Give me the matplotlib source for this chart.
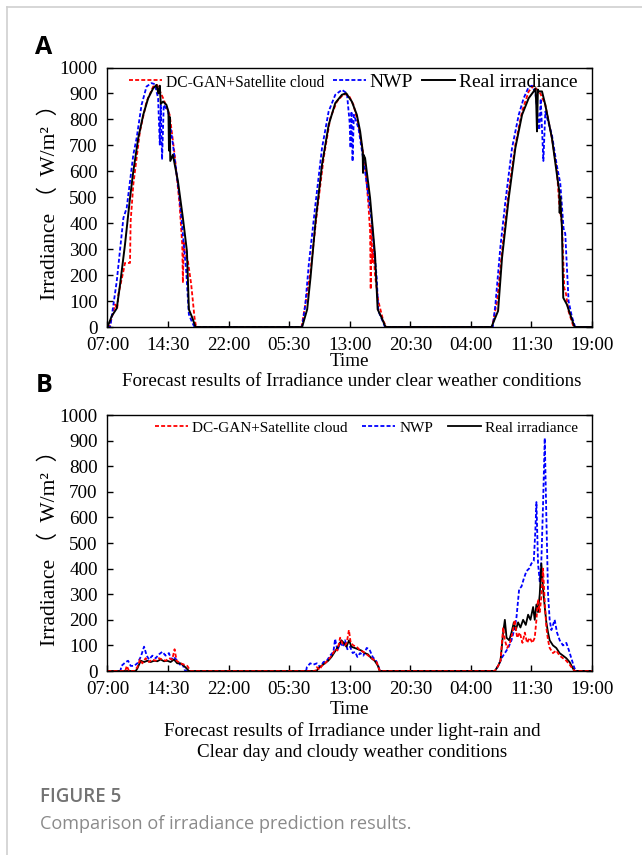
import matplotlib
matplotlib.use('Agg')
import matplotlib.pyplot as plt
from matplotlib.lines import Line2D

plt.rcParams['font.family'] = ['Liberation Serif', 'Noto Sans CJK SC']

# time axis in hours counted from 07:00 of the first day
tick_pos = [0, 7.5, 15, 22.5, 30, 37.5, 45, 52.5, 60]
tick_labels = ['07:00', '14:30', '22:00', '05:30', '13:00', '20:30', '04:00', '11:30', '19:00']
series_names = ['DC-GAN+Satellite cloud', 'NWP', 'Real irradiance']

# ---- A: clear weather ----
a_gan_t = [0, 0.25, 0.94, 1.2, 1.35, 1.97, 2.17, 2.79, 2.87, 3.2, 4.02, 4.84, 5.66, 6.15, 6.89, 7.7,
           8.32, 8.93, 9.26, 9.34, 9.45, 9.55, 9.96, 10.37, 10.78, 10.98,
           24.03, 24.5, 25.14, 25.96, 26.77, 27.59, 28.41, 29.23, 29.85, 30.47, 31.08, 31.9, 32.31,
           32.52, 32.6, 32.68, 32.8, 32.93, 33.13, 33.54, 34.16, 34.57,
           47.63, 48.25, 48.86, 49.69, 50.51, 51.34, 52.16, 52.78, 53.6, 54.22, 55.04, 55.66, 55.95,
           56.28, 56.57, 56.77, 57.1, 57.72, 60]
a_gan_v = [0, 0, 87, 70, 126, 215, 247, 247, 408, 549, 754, 869, 927, 933, 882, 818,
           664, 472, 318, 170, 330, 292, 254, 164, 36, 0,
           0, 87, 215, 446, 651, 805, 869, 897, 895, 856, 779, 626, 472,
           369, 145, 390, 250, 300, 200, 100, 23, 0,
           0, 100, 292, 523, 703, 831, 908, 930, 900, 856, 728, 600, 470,
           400, 150, 130, 60, 0, 0]

a_nwp_t = [0, 0.33, 0.74, 1.15, 1.97, 2.38, 3.2, 3.61, 4.22, 4.84, 5.45, 5.86, 6.27, 6.48, 6.6, 6.76,
           6.97, 7.5, 8.11, 8.93, 9.75, 10.08, 10.5, 10.78,
           24.1, 24.5, 24.93, 25.75, 26.57, 27.39, 28.21, 29.03, 29.65, 29.98, 30.1, 30.22, 30.35,
           30.51, 31.08, 31.9, 32.72, 33.34, 33.54, 34.16, 34.36,
           47.72, 48.04, 48.66, 49.28, 50.1, 50.93, 51.54, 52.16, 52.57, 52.98, 53.48, 53.65, 53.98,
           54.22, 55.04, 55.66, 56.07, 56.48, 56.69, 57.1, 57.51, 57.92, 60]
a_nwp_v = [0, 0, 87, 177, 420, 459, 664, 728, 856, 927, 940, 936, 882, 703, 856, 645,
           856, 831, 703, 497, 215, 49, 17, 0,
           0, 87, 241, 472, 690, 831, 895, 914, 901, 792, 690, 831, 638,
           818, 767, 600, 408, 190, 62, 17, 0,
           0, 87, 310, 485, 690, 818, 882, 925, 930, 905, 760, 880, 640,
           830, 740, 620, 555, 380, 360, 100, 40, 0, 0]

a_real_t = [0, 0.53, 1.15, 1.56, 2.17, 2.79, 3.2, 3.81, 4.43, 5.04, 5.66, 6.07, 6.3, 6.48, 6.6, 6.89,
            7.3, 7.55, 7.62, 7.7, 7.78, 8.1, 8.73, 9.34, 9.84, 10.08, 10.5, 10.9,
            24.1, 24.73, 25.14, 25.77, 26.57, 27.39, 28.21, 29.03, 29.56, 30.26, 30.88, 31.29, 31.6,
            31.65, 31.7, 31.9, 32.52, 33.13, 33.46, 33.95, 34.44,
            47.55, 48.37, 48.86, 49.69, 50.51, 51.34, 52.16, 52.78, 53.0, 53.1, 53.19, 53.3, 53.4,
            53.81, 54.22, 55.04, 55.66, 55.95, 56.0, 56.07, 56.28, 56.44, 56.89, 57.3, 57.84, 60]
a_real_v = [0, 42, 72, 164, 318, 497, 600, 728, 818, 882, 920, 933, 900, 930, 860, 869,
            856, 830, 680, 810, 640, 664, 561, 420, 292, 68, 36, 0,
            0, 68, 190, 408, 626, 779, 863, 895, 901, 869, 818, 754, 680,
            594, 664, 651, 497, 279, 68, 36, 0,
            0, 62, 267, 497, 690, 818, 882, 908, 920, 860, 754, 915, 908,
            908, 856, 728, 587, 523, 440, 500, 382, 113, 87, 49, 0, 0]

# ---- B: light rain / cloudy ----
b_gan_t = [0, 2.2, 2.39, 2.67, 3.29, 3.7, 4.03, 4.32, 4.73, 5.14, 5.56, 5.97, 6.38, 6.79, 7.2, 7.61,
           8.02, 8.31, 8.56, 9.05, 9.47, 9.88, 10.29,
           25.72, 25.93, 26.26, 26.54, 26.95, 27.37, 27.78, 28.19, 28.48, 28.81, 29.14, 29.42, 29.63,
           29.9, 30.12, 30.45, 30.86, 31.28, 31.69, 32.1, 32.51, 32.92, 33.33, 33.66, 33.83,
           47.97, 48.38, 48.67, 49.0, 49.21, 49.5, 49.83, 50.16, 50.44, 50.73, 51.06, 51.39, 51.68,
           51.96, 52.29, 52.62, 52.91, 53.12, 53.32, 53.53, 53.73, 53.94, 54.15, 54.35, 54.56, 54.76,
           55.17, 55.58, 55.99, 56.41, 56.82, 57.23, 57.56, 57.85, 60]
b_gan_v = [0, 0, 20, 0, 0, 15, 45, 30, 50, 35, 45, 40, 50, 45, 40, 50,
           45, 85, 40, 30, 25, 20, 0,
           0, 15, 5, 20, 30, 45, 60, 85, 80, 130, 105, 100, 110,
           160, 110, 100, 95, 80, 75, 65, 55, 45, 35, 5, 0,
           0, 20, 40, 170, 120, 90, 110, 150, 200, 130, 150, 110, 150,
           110, 130, 110, 130, 200, 280, 230, 290, 400, 270, 170, 120, 90,
           70, 80, 60, 50, 40, 25, 10, 0, 0]

b_nwp_t = [0, 1.6, 1.73, 2.26, 2.55, 2.88, 3.29, 3.7, 4.12, 4.53, 4.86, 5.14, 5.56, 5.97, 6.38, 6.79,
           7.2, 7.61, 7.9, 8.23, 8.64, 8.97, 9.26, 9.55, 9.67,
           24.6, 24.69, 25.1, 25.51, 25.93, 26.34, 26.75, 27.16, 27.57, 27.98, 28.19, 28.48, 28.81,
           29.14, 29.42, 29.71, 30.04, 30.37, 30.66, 30.95, 31.28, 31.69, 32.1, 32.43, 32.84, 33.25,
           33.54, 33.74,
           47.97, 48.38, 48.8, 49.21, 49.62, 50.03, 50.44, 50.65, 50.98, 51.27, 51.55, 51.88, 52.21,
           52.5, 52.79, 52.99, 53.12, 53.32, 53.53, 53.73, 53.94, 54.15, 54.35, 54.56, 54.76, 54.97,
           55.38, 55.67, 56.0, 56.41, 56.82, 57.15, 57.44, 57.73, 57.97, 60]
b_nwp_v = [0, 0, 20, 35, 40, 20, 20, 30, 55, 95, 60, 45, 60, 50, 65, 75,
           60, 70, 45, 55, 40, 25, 30, 5, 0,
           0, 15, 30, 25, 30, 15, 35, 40, 60, 75, 125, 80, 110,
           95, 120, 85, 95, 70, 75, 55, 70, 60, 90, 85, 55, 40,
           20, 0,
           0, 20, 50, 70, 90, 120, 170, 210, 320, 330, 360, 390, 400,
           420, 430, 550, 660, 420, 350, 430, 650, 910, 600, 300, 200, 160,
           200, 150, 120, 100, 110, 80, 50, 20, 0, 0]

b_real_t = [0, 3.5, 3.7, 4.12, 4.53, 4.94, 5.35, 5.76, 6.17, 6.58, 7.0, 7.41, 7.82, 8.23, 8.64, 9.05,
            9.47, 9.8, 10.08,
            25.9, 26.09, 26.5, 26.91, 27.33, 27.74, 28.15, 28.56, 28.97, 29.26, 29.59, 29.92, 30.2,
            30.62, 31.03, 31.44, 31.85, 32.26, 32.67, 33.09, 33.5, 33.7,
            47.97, 48.38, 48.67, 49.0, 49.21, 49.42, 49.75, 50.03, 50.32, 50.56, 50.85, 51.14, 51.47,
            51.8, 52.09, 52.38, 52.71, 52.91, 53.12, 53.32, 53.53, 53.73, 53.94, 54.15, 54.35, 54.56,
            54.76, 55.17, 55.58, 55.99, 56.41, 56.82, 57.23, 57.64, 57.85, 60]
b_real_v = [0, 0, 10, 40, 35, 40, 35, 40, 38, 45, 38, 40, 35, 45, 30, 30,
            20, 10, 0,
            0, 10, 20, 30, 40, 55, 75, 95, 120, 110, 95, 120, 95,
            90, 85, 80, 70, 65, 50, 40, 20, 0,
            0, 20, 40, 150, 200, 130, 120, 150, 190, 160, 190, 170, 200,
            180, 220, 200, 250, 200, 260, 230, 300, 420, 320, 250, 190, 150,
            120, 100, 90, 70, 60, 50, 35, 10, 0, 0]

DASH = (2.2, 1.2)
RED = '#ff0000'
BLUE = '#0000ff'

fig = plt.figure(figsize=(6.42, 8.55), dpi=100)
ax1 = fig.add_axes([0.1674, 0.6175, 0.7547, 0.3035])
ax2 = fig.add_axes([0.1674, 0.2152, 0.7547, 0.2994])


def setup(ax, xpad):
    ax.set_xlim(0, 60)
    ax.set_ylim(0, 1000)
    ax.set_xticks(tick_pos)
    ax.set_xticklabels(tick_labels)
    ax.set_yticks(range(0, 1001, 100))
    ax.tick_params(direction='in', right=True, top=False, length=4, width=1, labelsize=13.8)
    ax.tick_params(axis='x', pad=7)
    ax.tick_params(axis='y', pad=7)
    for s in ax.spines.values():
        s.set_linewidth(1.0)
    ax.set_xlabel('Time', fontsize=13.8, labelpad=xpad)
    ax.set_ylabel('Irradiance （  W/m²  ）', fontsize=15.5, labelpad=-0.5)


# panel A
la, = ax1.plot(a_gan_t, a_gan_v, color=RED, lw=1.3, ls=(0, DASH))
lb, = ax1.plot(a_nwp_t, a_nwp_v, color=BLUE, lw=1.3, ls=(0, DASH))
lc, = ax1.plot(a_real_t, a_real_v, color='black', lw=1.4)
setup(ax1, -0.5)
leg = ax1.legend([la, lb, lc], series_names, loc='upper left', bbox_to_anchor=(0.032, 1.0),
                 ncol=3, frameon=False, fontsize=14, handlelength=1.7, handletextpad=0.2,
                 columnspacing=0.45, borderaxespad=0.2, borderpad=0.1)
leg.get_texts()[0].set_fontsize(11.2)

# panel B
mb, = ax2.plot(b_nwp_t, b_nwp_v, color=BLUE, lw=1.3, ls=(0, DASH))
mc, = ax2.plot(b_real_t, b_real_v, color='black', lw=1.3)
ma, = ax2.plot(b_gan_t, b_gan_v, color=RED, lw=1.3, ls=(0, DASH))
setup(ax2, 2.0)
ax2.legend([ma, mb, mc], series_names, loc='upper left', bbox_to_anchor=(0.085, 1.0),
           ncol=3, frameon=False, fontsize=11, handlelength=2.15, handletextpad=0.3,
           columnspacing=0.95, borderaxespad=0.3, borderpad=0.1)

# subtitles
fig.text(0.548, 1 - 381 / 855, 'Forecast results of Irradiance under clear weather conditions',
         ha='center', va='center', fontsize=13.7)
fig.text(0.548, 1 - 731 / 855, 'Forecast results of Irradiance under light-rain and',
         ha='center', va='center', fontsize=13.7)
fig.text(0.548, 1 - 752 / 855, 'Clear day and cloudy weather conditions',
         ha='center', va='center', fontsize=13.7)

# panel letters
fig.text(44 / 642, 1 - 47 / 855, 'A', ha='center', va='center', fontsize=18,
         fontweight='bold', family='Open Sans')
fig.text(44 / 642, 1 - 385 / 855, 'B', ha='center', va='center', fontsize=18,
         fontweight='bold', family='Open Sans')

# caption
fig.text(40 / 642, 1 - 797 / 855, 'FIGURE 5', ha='left', va='center', fontsize=13.5,
         fontweight='semibold', family='Open Sans', color='#737373')
fig.text(40 / 642, 1 - 824 / 855, 'Comparison of irradiance prediction results.', ha='left',
         va='center', fontsize=13.1, family='Open Sans', color='#8a8a8a')

# page frame
fig.add_artist(Line2D([7 / 642, 7 / 642], [0, 1 - 7 / 855], transform=fig.transFigure,
                      color='#cfcfcf', lw=1.2))
fig.add_artist(Line2D([7 / 642, 1], [1 - 7 / 855, 1 - 7 / 855], transform=fig.transFigure,
                      color='#cfcfcf', lw=1.2))

fig.savefig('out.png', dpi=100)
